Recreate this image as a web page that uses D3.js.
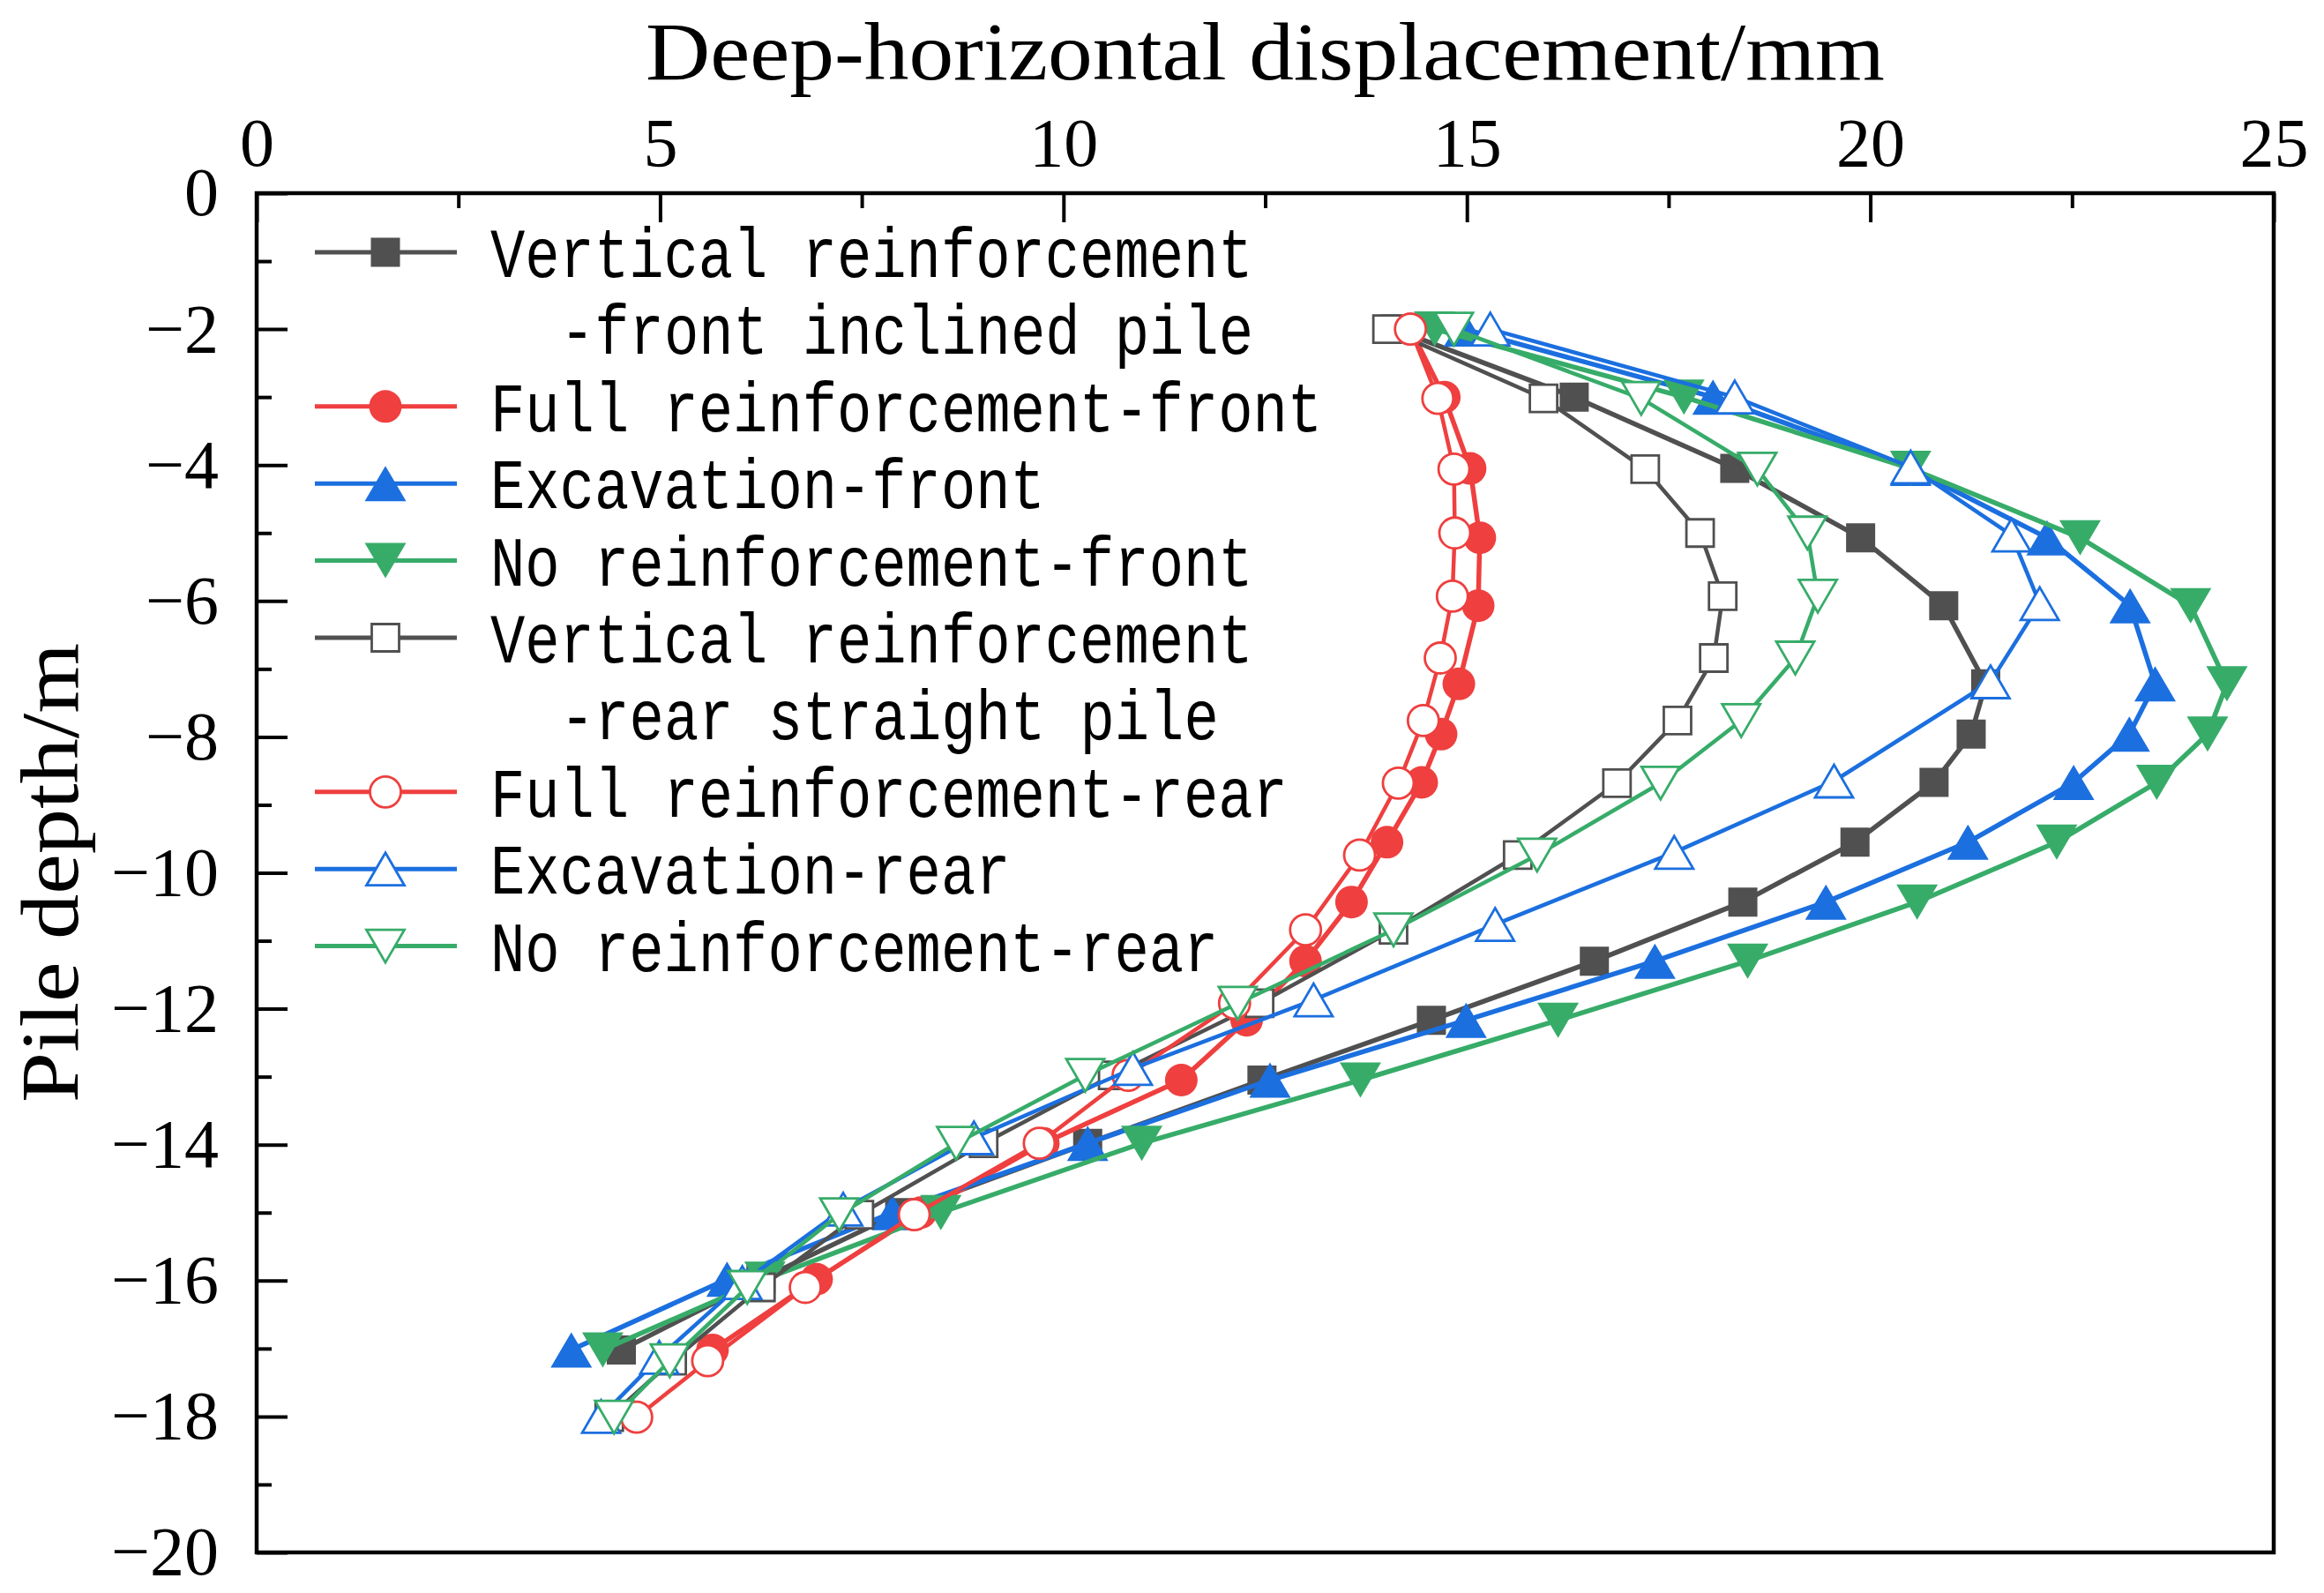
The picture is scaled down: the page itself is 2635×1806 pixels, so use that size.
<!DOCTYPE html>
<html>
<head>
<meta charset="utf-8">
<script src="https://cdn.jsdelivr.net/npm/d3@7/dist/d3.min.js"></script>
<style>
body { margin: 0; background: #fff; }
</style>
</head>
<body>
<svg id="chart" width="2635" height="1806"></svg>
<script>
// depths (m)
var depthFront = [-2, -3, -4.05, -5.07, -6.07, -7.22, -7.96, -8.67, -9.55, -10.43, -11.3, -12.17, -13.05, -13.98, -15.0, -15.98, -17.02]
var depthRear = [-2, -3.02, -4.06, -5.0, -5.93, -6.84, -7.76, -8.68, -9.74, -10.84, -11.92, -12.98, -13.98, -15.03, -16.1, -17.18, -18.01]
var depthExcRear = [-2, -3, -4.03, -5.03, -6.04, -7.19, -8.65, -9.7, -10.76, -11.87, -12.88, -13.9, -14.95, -16.03, -17.13, -18.0]

// displacement (mm)
var vrFront = [14.1, 16.33, 18.32, 19.88, 20.91, 21.43, 21.25, 20.79, 19.81, 18.42, 16.58, 14.56, 12.46, 10.3, 7.97, 6.25, 4.52]
var fullFront = [14.3, 14.72, 15.04, 15.16, 15.14, 14.9, 14.68, 14.44, 14.01, 13.57, 13.0, 12.27, 11.46, 9.75, 8.23, 6.94, 5.65]
var excFront = [14.97, 18.05, 20.5, 22.19, 23.22, 23.53, 23.21, 22.52, 21.21, 19.45, 17.33, 14.99, 12.56, 10.3, 7.88, 5.83, 3.9]
var noFront = [14.6, 17.69, 20.5, 22.6, 23.97, 24.42, 24.18, 23.55, 22.31, 20.58, 18.48, 16.13, 13.68, 10.97, 8.48, 6.3, 4.29]
var vrRear = [14.01, 15.95, 17.21, 17.89, 18.17, 18.06, 17.61, 16.86, 15.63, 14.09, 12.43, 10.61, 9.01, 7.47, 6.25, 5.15, 4.37]
var fullRear = [14.3, 14.64, 14.84, 14.85, 14.82, 14.67, 14.46, 14.15, 13.67, 13.0, 12.12, 10.8, 9.7, 8.15, 6.8, 5.59, 4.71]
var excRear = [15.29, 18.32, 20.5, 21.75, 22.1, 21.49, 19.55, 17.57, 15.35, 13.1, 10.86, 8.89, 7.27, 6.02, 4.99, 4.27]
var noRear = [14.84, 17.16, 18.6, 19.22, 19.35, 19.07, 18.4, 17.4, 15.87, 14.09, 12.16, 10.27, 8.67, 7.22, 6.08, 5.12, 4.43]

var legendLabels = [
	['Vertical reinforcement', '-front inclined pile'],
	['Full reinforcement-front'],
	['Excavation-front'],
	['No reinforcement-front'],
	['Vertical reinforcement', '-rear straight pile'],
	['Full reinforcement-rear'],
	['Excavation-rear'],
	['No reinforcement-rear']
]
var xTicks = [0, 5, 10, 15, 20, 25]
var yTicks = [0, -2, -4, -6, -8, -10, -12, -14, -16, -18, -20]

var series = [
	{ x: vrFront, y: depthFront, color: '#505050', shape: 'square', hollow: false },
	{ x: fullFront, y: depthFront, color: '#ef3f3f', shape: 'circle', hollow: false },
	{ x: excFront, y: depthFront, color: '#1b6fdf', shape: 'up', hollow: false },
	{ x: noFront, y: depthFront, color: '#37ac69', shape: 'down', hollow: false },
	{ x: vrRear, y: depthRear, color: '#505050', shape: 'square', hollow: true },
	{ x: fullRear, y: depthRear, color: '#ef3f3f', shape: 'circle', hollow: true },
	{ x: excRear, y: depthExcRear, color: '#1b6fdf', shape: 'up', hollow: true },
	{ x: noRear, y: depthRear, color: '#37ac69', shape: 'down', hollow: true }
]

var svg = d3.select('#chart')
var pL = 291, pR = 2578, pT = 219, pB = 1760

var x = d3.scaleLinear().domain([0, 25]).range([pL, pR])
var y = d3.scaleLinear().domain([0, -20]).range([pT, pB])

function markerPath(shape, hollow) {
	if (shape == 'square') {
		var s = hollow ? 31 : 33
		return 'M' + (-s / 2) + ',' + (-s / 2) + 'h' + s + 'v' + s + 'h' + (-s) + 'Z'
	}
	if (shape == 'circle') {
		return d3.symbol(d3.symbolCircle, Math.PI * Math.pow(hollow ? 17.5 : 18.5, 2))()
	}
	var w = hollow ? 43 : 47, h = hollow ? 37 : 40
	if (shape == 'up')
		return 'M0,' + (-h / 2) + 'L' + (w / 2) + ',' + (h / 2) + 'L' + (-w / 2) + ',' + (h / 2) + 'Z'
	return 'M0,' + (h / 2) + 'L' + (w / 2) + ',' + (-h / 2) + 'L' + (-w / 2) + ',' + (-h / 2) + 'Z'
}

// axes (ticks point inward)
var fontNum = '"Liberation Serif", "Times New Roman", serif'
var gx = svg.append('g').attr('transform', 'translate(0,' + pT + ')')
	.call(d3.axisTop(x).tickValues(xTicks).tickSizeInner(-33).tickSizeOuter(0).tickPadding(31).tickFormat(d3.format('d')))
gx.append('g').call(d3.axisTop(x).tickValues([2.5, 7.5, 12.5, 17.5, 22.5]).tickSizeInner(-17).tickSizeOuter(0).tickFormat(''))
var gy = svg.append('g').attr('transform', 'translate(' + pL + ',0)')
	.call(d3.axisLeft(y).tickValues(yTicks).tickSizeInner(-35).tickSizeOuter(0).tickPadding(43).tickFormat(d3.format('d')))
gy.append('g').call(d3.axisLeft(y).tickValues(d3.range(-1, -20, -2)).tickSizeInner(-17).tickSizeOuter(0).tickFormat(''))
svg.selectAll('.domain').remove()
svg.selectAll('.tick line').attr('stroke', '#000').attr('stroke-width', 4)
svg.selectAll('.tick text').attr('font-family', fontNum).attr('font-size', 78).attr('fill', '#000')

// series
series.forEach(function (s) {
	var pts = s.x.map(function (v, i) { return [v, s.y[i]] })
	var g = svg.append('g')
	g.append('path')
		.datum(pts)
		.attr('fill', 'none')
		.attr('stroke', s.color)
		.attr('stroke-width', s.hollow ? 4.5 : 5.5)
		.attr('stroke-linejoin', 'round')
		.attr('d', d3.line().x(function (d) { return x(d[0]) }).y(function (d) { return y(d[1]) }))
	g.selectAll('.mk')
		.data(pts)
		.join('path')
		.attr('class', 'mk')
		.attr('transform', function (d) { return 'translate(' + x(d[0]) + ',' + y(d[1]) + ')' })
		.attr('d', markerPath(s.shape, s.hollow))
		.attr('fill', s.hollow ? '#fff' : s.color)
		.attr('stroke', s.hollow ? s.color : 'none')
		.attr('stroke-width', 2.8)
})

// frame
svg.append('rect')
	.attr('x', pL).attr('y', pT)
	.attr('width', pR - pL).attr('height', pB - pT)
	.attr('fill', 'none').attr('stroke', '#000').attr('stroke-width', 4.5)

// legend
var rowH = 87.4, row0 = 286
var row = 0
var legend = svg.append('g')
series.forEach(function (s, i) {
	var cy = row0 + row * rowH
	legend.append('line')
		.attr('x1', 357).attr('x2', 518).attr('y1', cy).attr('y2', cy)
		.attr('stroke', s.color).attr('stroke-width', 5)
	legend.append('path')
		.attr('transform', 'translate(437,' + cy + ')')
		.attr('d', markerPath(s.shape, s.hollow))
		.attr('fill', s.hollow ? '#fff' : s.color)
		.attr('stroke', s.hollow ? s.color : 'none')
		.attr('stroke-width', 2.8)
	legendLabels[i].forEach(function (t, j) {
		legend.append('text')
			.attr('transform', 'translate(' + (j == 0 ? 556 : 635) + ',' + (cy + j * rowH + 28) + ') scale(1,1.22)')
			.attr('font-family', '"Liberation Mono", "DejaVu Sans Mono", monospace')
			.attr('font-size', 65.5)
			.attr('fill', '#000')
			.text(t)
	})
	row += legendLabels[i].length
})

// titles
svg.append('text')
	.attr('x', (pL + pR) / 2).attr('y', 90)
	.attr('text-anchor', 'middle')
	.attr('font-family', fontNum)
	.attr('font-size', 94)
	.attr('textLength', 1405).attr('lengthAdjust', 'spacingAndGlyphs')
	.text('Deep-horizontal displacement/mm')
svg.append('text')
	.attr('transform', 'translate(88,' + ((pT + pB) / 2) + ') rotate(-90)')
	.attr('text-anchor', 'middle')
	.attr('font-family', fontNum)
	.attr('font-size', 94)
	.attr('textLength', 521).attr('lengthAdjust', 'spacingAndGlyphs')
	.text('Pile depth/m')
</script>
</body>
</html>
